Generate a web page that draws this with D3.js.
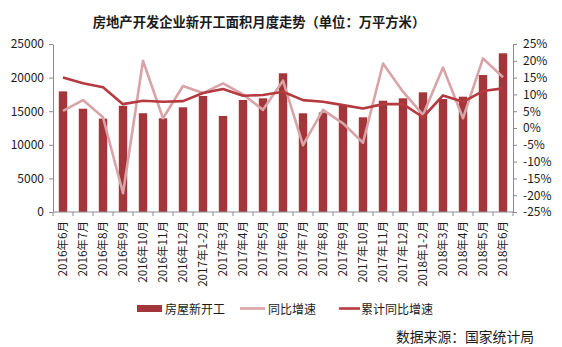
<!DOCTYPE html>
<html>
<head>
<meta charset="utf-8">
<script src="https://cdn.jsdelivr.net/npm/d3@7"></script>
<style>
  html, body { margin: 0; padding: 0; background: #fff; }
  svg { display: block; font-family: "Noto Sans CJK SC", "Noto Sans", sans-serif; }
</style>
</head>
<body>
<svg id="chart" width="562" height="347"></svg>
<script>
// Monthly categories
const months = [
  "2016年6月", "2016年7月", "2016年8月", "2016年9月", "2016年10月", "2016年11月", "2016年12月",
  "2017年1-2月", "2017年3月", "2017年4月", "2017年5月", "2017年6月", "2017年7月", "2017年8月",
  "2017年9月", "2017年10月", "2017年11月", "2017年12月",
  "2018年1-2月", "2018年3月", "2018年4月", "2018年5月", "2018年6月"
];
// 房屋新开工 (万平方米)
const newStarts = [
  17950, 15370, 13900, 15800, 14700, 13940, 15580,
  17260, 14290, 16670, 16920, 20640, 14690, 14800,
  15920, 14090, 16560, 16920,
  17810, 16810, 17160, 20390, 23620
];
// 同比增速 (%)
const yoy = [
  5.1, 8.3, 3.2, -19.4, 20.0, 2.9, 12.5,
  10.4, 13.3, 10.0, 5.4, 14.1, -5.1, 5.4,
  1.4, -4.4, 19.2, 10.8,
  3.9, 18.0, 2.9, 20.7, 15.1
];
// 累计同比增速 (%)
const cumYoy = [
  15.0, 13.3, 12.1, 7.1, 8.1, 7.8, 8.0,
  10.4, 11.6, 9.6, 9.8, 10.8, 8.3, 7.8,
  6.8, 5.8, 7.1, 7.1,
  3.2, 9.7, 7.8, 11.0, 11.8
];
const leftTicks = [0, 5000, 10000, 15000, 20000, 25000];
const rightTicks = [-25, -20, -15, -10, -5, 0, 5, 10, 15, 20, 25];

const colBar = "#A3363A";
const colCum = "#B43A40";
const colYoy = "#D8A4A7";
const axisCol = "#8c8c8c";

const svg = d3.select("#chart");
const plot = { left: 53, right: 513, top: 44, bottom: 212 };

const x = d3.scaleBand().domain(months).range([plot.left, plot.right]).paddingInner(0.58).paddingOuter(0.29);
const xBand = d3.scaleBand().domain(months).range([plot.left, plot.right]);
const yL = d3.scaleLinear().domain([0, 25000]).range([plot.bottom, plot.top]);
const yR = d3.scaleLinear().domain([-25, 25]).range([plot.bottom, plot.top]);

// Title
svg.append("text")
  .attr("x", 259).attr("y", 27)
  .attr("text-anchor", "middle")
  .attr("font-size", 13.3).attr("font-weight", "bold").attr("fill", "#1a1a1a")
  .text("房地产开发企业新开工面积月度走势（单位：万平方米）");

// Bars
svg.append("g").selectAll("rect").data(newStarts).join("rect")
  .attr("x", (d, i) => x(months[i]))
  .attr("width", x.bandwidth())
  .attr("y", d => yL(d))
  .attr("height", d => yL(0) - yL(d))
  .attr("fill", colBar);

// Lines
const cx = i => xBand(months[i]) + xBand.bandwidth() / 2;
const lineYoy = d3.line().x((d, i) => cx(i)).y(d => yR(d));
svg.append("path").datum(yoy)
  .attr("d", lineYoy).attr("fill", "none")
  .attr("stroke", colYoy).attr("stroke-width", 2.6).attr("stroke-linejoin", "round");
svg.append("path").datum(cumYoy)
  .attr("d", lineYoy).attr("fill", "none")
  .attr("stroke", colCum).attr("stroke-width", 2.6).attr("stroke-linejoin", "round");

// Left axis
const gL = svg.append("g").attr("transform", `translate(${plot.left},0)`)
  .call(d3.axisLeft(yL).tickValues(leftTicks).tickSize(4).tickSizeOuter(0).tickPadding(5)
    .tickFormat(d3.format("d")));
// Right axis
const gR = svg.append("g").attr("transform", `translate(${plot.right},0)`)
  .call(d3.axisRight(yR).tickValues(rightTicks).tickSize(4).tickSizeOuter(0).tickPadding(6)
    .tickFormat(d => d + "%"));
// Bottom axis with ticks at category boundaries
const gB = svg.append("g").attr("transform", `translate(0,${plot.bottom})`);
gB.append("line").attr("x1", plot.left).attr("x2", plot.right)
  .attr("stroke", axisCol);
gB.selectAll("line.tk").data(d3.range(months.length + 1)).join("line")
  .attr("class", "tk")
  .attr("x1", i => plot.left + i * xBand.step()).attr("x2", i => plot.left + i * xBand.step())
  .attr("y1", 0).attr("y2", 4).attr("stroke", axisCol);
gB.selectAll("text").data(months).join("text")
  .attr("transform", d => `translate(${xBand(d) + xBand.bandwidth() / 2 + 4},9) rotate(-90)`)
  .attr("text-anchor", "end")
  .attr("font-size", 11.6).attr("fill", "#1a1a1a")
  .text(d => d);

[gL, gR].forEach(g => {
  g.select(".domain").attr("stroke", axisCol);
  g.selectAll(".tick line").attr("stroke", axisCol);
  g.selectAll(".tick text").attr("font-size", 12).attr("fill", "#1a1a1a")
    .attr("font-family", "\"Noto Sans CJK SC\", sans-serif");
});

// Legend
const lg = svg.append("g").attr("font-size", 12).attr("fill", "#1a1a1a");
lg.append("rect").attr("x", 137).attr("y", 305).attr("width", 25).attr("height", 7).attr("fill", colBar);
lg.append("text").attr("x", 165).attr("y", 313.5).text("房屋新开工");
lg.append("line").attr("x1", 240).attr("x2", 265).attr("y1", 308.5).attr("y2", 308.5)
  .attr("stroke", colYoy).attr("stroke-width", 2.6);
lg.append("text").attr("x", 268).attr("y", 313.5).text("同比增速");
lg.append("line").attr("x1", 339).attr("x2", 360).attr("y1", 308.5).attr("y2", 308.5)
  .attr("stroke", colCum).attr("stroke-width", 2.6);
lg.append("text").attr("x", 361).attr("y", 313.5).text("累计同比增速");

// Source note
svg.append("text")
  .attr("x", 534).attr("y", 342).attr("text-anchor", "end")
  .attr("font-size", 13.8).attr("fill", "#1a1a1a")
  .text("数据来源：国家统计局");
</script>
</body>
</html>
